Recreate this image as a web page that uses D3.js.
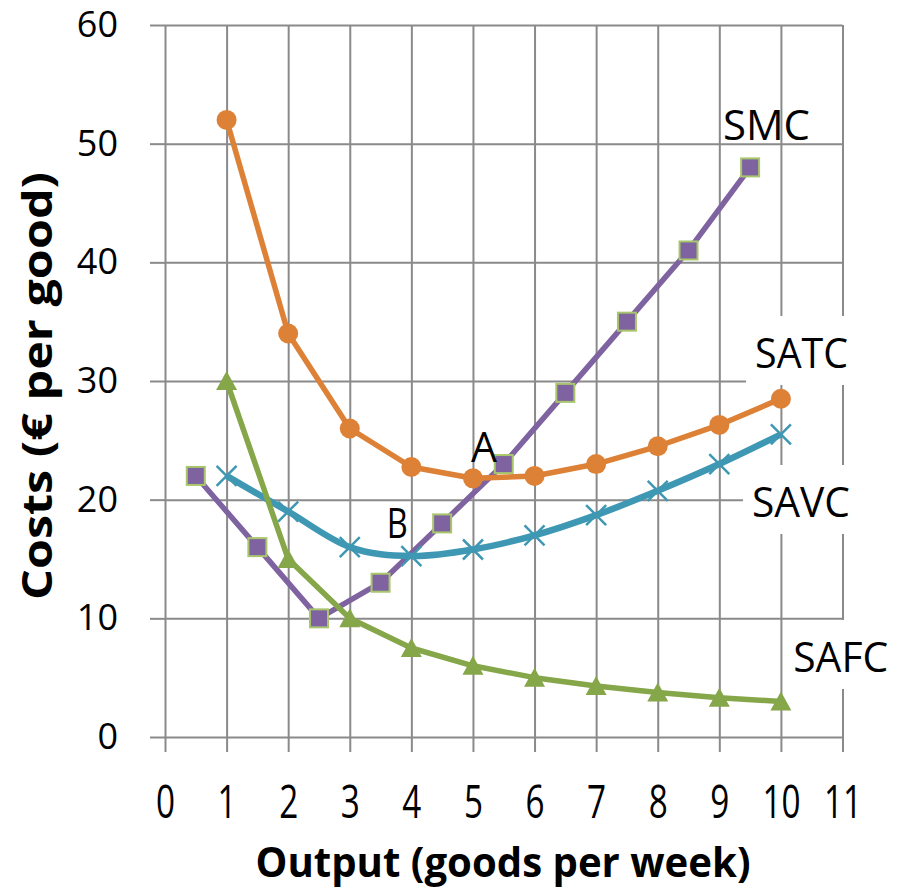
<!DOCTYPE html>
<html>
<head>
<meta charset="utf-8">
<script src="https://cdn.jsdelivr.net/npm/d3@7"></script>
<style>
  body { margin: 0; background: #fff; }
  svg text { font-family: "Open Sans", "DejaVu Sans", sans-serif; fill: #000; }
</style>
</head>
<body>
<div id="chart"></div>
<script>
// data
const outputs = [1, 2, 3, 4, 5, 6, 7, 8, 9, 10];
const smcOutputs = [0.5, 1.5, 2.5, 3.5, 4.5, 5.5, 6.5, 7.5, 8.5, 9.5];
const satc = [52, 34, 26, 22.75, 21.8, 22, 23, 24.5, 26.3, 28.5];
const savc = [22, 19, 16, 15.25, 15.8, 17, 18.7, 20.75, 23, 25.5];
const safc = [30, 15, 10, 7.5, 6, 5, 4.3, 3.75, 3.3, 3];
const smc = [22, 16, 10, 13, 18, 23, 29, 35, 41, 48];
const xTicks = [0, 1, 2, 3, 4, 5, 6, 7, 8, 9, 10, 11];
const yTicks = [0, 10, 20, 30, 40, 50, 60];

const width = 901, height = 889;
const margin = { top: 25, left: 165, right: 58.5, bottom: 152 };
const w = width - margin.left - margin.right;
const h = height - margin.top - margin.bottom;

const svg = d3.select("#chart").append("svg")
  .attr("width", width).attr("height", height);
const g = svg.append("g").attr("transform", `translate(${margin.left},${margin.top})`);

const x = d3.scaleLinear().domain([0, 11]).range([0, w]);
const y = d3.scaleLinear().domain([0, 60]).range([h, 0]);

const gridColor = "#8a8a8a";

// grid lines
g.append("g").attr("transform", `translate(0,${h})`)
  .call(d3.axisBottom(x).tickValues(xTicks).tickSize(-h).tickFormat(""))
  .call(a => a.select(".domain").remove())
  .call(a => a.selectAll("line").attr("stroke", gridColor).attr("stroke-width", 2));
g.append("g")
  .call(d3.axisLeft(y).tickValues(yTicks).tickSize(-w).tickFormat(""))
  .call(a => a.select(".domain").remove())
  .call(a => a.selectAll("line").attr("stroke", gridColor).attr("stroke-width", 2));

// outer tick marks + labels
g.append("g").attr("transform", `translate(0,${h})`)
  .call(d3.axisBottom(x).tickValues(xTicks).tickSize(15).tickFormat(d3.format("d")))
  .call(a => a.select(".domain").remove())
  .call(a => a.selectAll("line").attr("stroke", gridColor).attr("stroke-width", 2))
  .call(a => a.selectAll("text")
    .attr("y", 81).attr("dy", null)
    .attr("transform", "scale(0.74,1)")
    .style("font-size", "45px"));

g.append("g")
  .call(d3.axisLeft(y).tickValues(yTicks).tickSize(15).tickPadding(32))
  .call(a => a.select(".domain").remove())
  .call(a => a.selectAll("line").attr("stroke", gridColor).attr("stroke-width", 2))
  .call(a => a.selectAll("text").style("font-size", "36px"));

// axis titles
svg.append("text")
  .attr("x", 503).attr("y", 877)
  .attr("text-anchor", "middle")
  .attr("textLength", 495).attr("lengthAdjust", "spacingAndGlyphs")
  .style("font-size", "42px").style("font-weight", "bold")
  .text("Output (goods per week)");

svg.append("text")
  .attr("transform", "translate(52,386) rotate(-90)")
  .attr("text-anchor", "middle")
  .attr("textLength", 428).attr("lengthAdjust", "spacingAndGlyphs")
  .style("font-size", "42px").style("font-weight", "bold")
  .text("Costs (€ per good)");

// curve labels; some sit in white text boxes hiding the grid
const labels = [
  { text: "SMC", x: 9.06, y: 50.3, len: 87, box: false },
  { text: "SATC", x: 9.58, y: 31.1, len: 93, box: true },
  { text: "SAVC", x: 9.53, y: 18.54, len: 98, box: true },
  { text: "SAFC", x: 10.2, y: 5.48, len: 95, box: true },
  { text: "A", x: 4.97, y: 23.17, len: 26, box: false },
  { text: "B", x: 3.6, y: 16.77, len: 21, box: false }
];

labels.filter(d => d.box).forEach(d => {
  g.append("rect")
    .attr("x", x(d.x) - 9).attr("y", y(d.y) - 52)
    .attr("width", width - margin.left - x(d.x) + 9).attr("height", 69)
    .attr("fill", "#fff");
});

// series
const colors = { satc: "#dd8137", savc: "#3f98b3", safc: "#86a64a", smc: "#7f63a1" };

const lineGen = d3.line().x(d => x(d[0])).y(d => y(d[1]));
const smoothGen = d3.line().x(d => x(d[0])).y(d => y(d[1])).curve(d3.curveCatmullRom.alpha(0));

const smcPts = d3.zip(smcOutputs, smc);
const satcPts = d3.zip(outputs, satc);
const savcPts = d3.zip(outputs, savc);
const safcPts = d3.zip(outputs, safc);

// SMC
g.append("path").datum(smcPts).attr("d", lineGen)
  .attr("fill", "none").attr("stroke", colors.smc).attr("stroke-width", 5.5)
  .attr("stroke-linejoin", "round");
g.selectAll(".sq").data(smcPts).enter().append("rect")
  .attr("class", "sq")
  .attr("x", d => x(d[0]) - 9).attr("y", d => y(d[1]) - 9)
  .attr("width", 18).attr("height", 18)
  .attr("fill", colors.smc).attr("stroke", "#a8c66c").attr("stroke-width", 2);

// SATC
g.append("path").datum(satcPts).attr("d", lineGen)
  .attr("fill", "none").attr("stroke", colors.satc).attr("stroke-width", 5.5)
  .attr("stroke-linejoin", "round");
g.selectAll(".dot").data(satcPts).enter().append("circle")
  .attr("class", "dot")
  .attr("cx", d => x(d[0])).attr("cy", d => y(d[1])).attr("r", 10)
  .attr("fill", colors.satc);

// SAVC
g.append("path").datum(savcPts).attr("d", smoothGen)
  .attr("fill", "none").attr("stroke", colors.savc).attr("stroke-width", 6.5)
  .attr("stroke-linejoin", "round");
g.selectAll(".xm").data(savcPts).enter().append("path")
  .attr("class", "xm")
  .attr("transform", d => `translate(${x(d[0])},${y(d[1])})`)
  .attr("d", "M-10,-10L10,10M-10,10L10,-10")
  .attr("stroke", colors.savc).attr("stroke-width", 2.5);

// SAFC
g.append("path").datum(safcPts).attr("d", lineGen)
  .attr("fill", "none").attr("stroke", colors.safc).attr("stroke-width", 5.5)
  .attr("stroke-linejoin", "round");
g.selectAll(".tri").data(safcPts).enter().append("path")
  .attr("class", "tri")
  .attr("transform", d => `translate(${x(d[0])},${y(d[1])})`)
  .attr("d", "M0,-10L10.5,9L-10.5,9Z")
  .attr("fill", colors.safc);

// labels
labels.forEach(d => {
  g.append("text")
    .attr("x", x(d.x)).attr("y", y(d.y))
    .attr("textLength", d.len).attr("lengthAdjust", "spacingAndGlyphs")
    .style("font-size", "42px")
    .text(d.text);
});
</script>
</body>
</html>
